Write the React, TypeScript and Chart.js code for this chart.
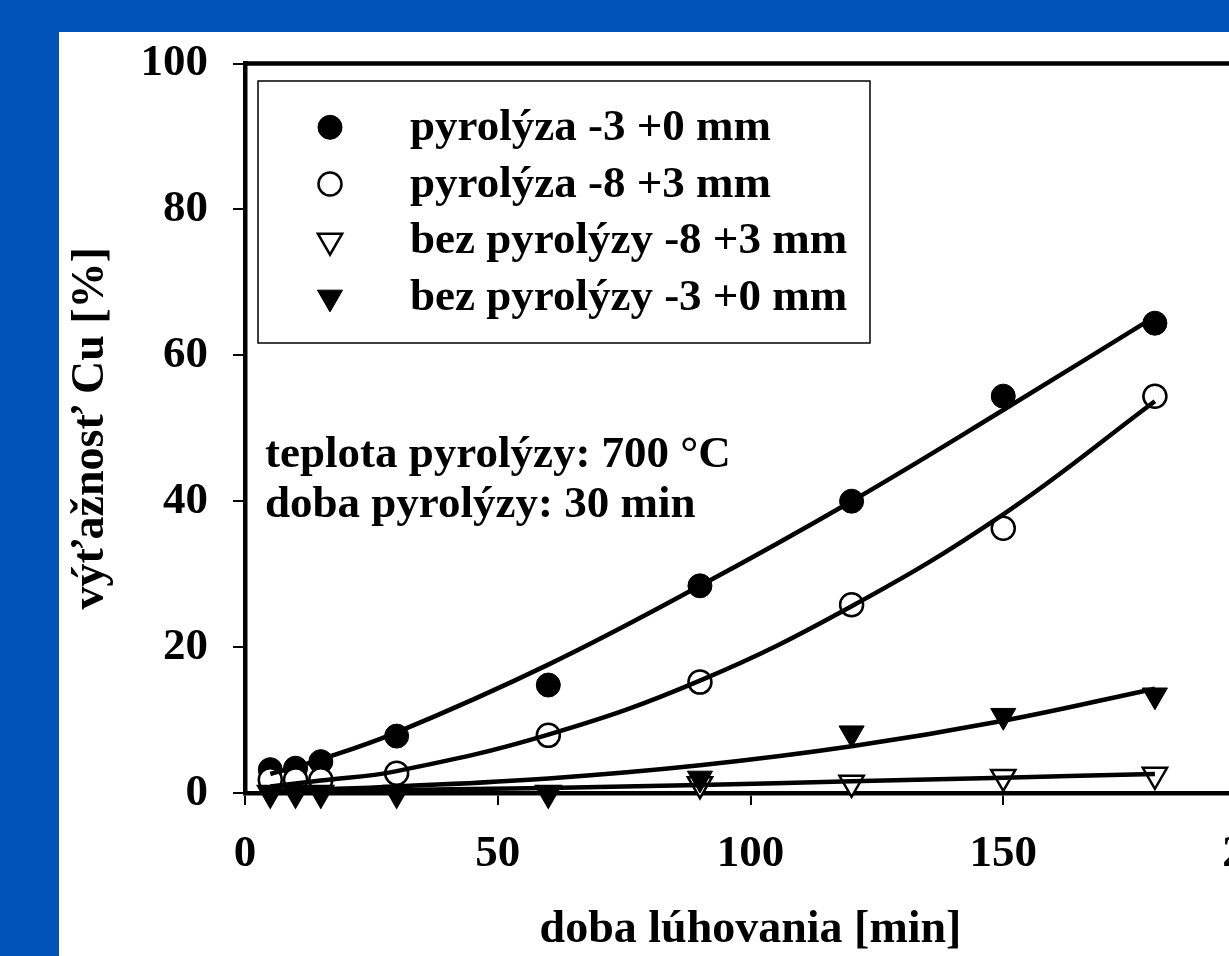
import React, { useEffect, useRef } from 'react';
import { Chart, registerables } from 'chart.js';
import { drawPoint } from 'chart.js/helpers';

Chart.register(...registerables);

// ---- data ----
const times = [5, 10, 15, 30, 60, 90, 120, 150, 180];
const pyro30 = [3.2, 3.4, 4.3, 7.8, 14.8, 28.4, 40.0, 54.4, 64.4];
const pyro83 = [1.8, 1.8, 1.8, 2.7, 7.9, 15.2, 25.8, 36.3, 54.4];
const bez83 = [0, 0, 0, 0, 0, 1.2, 1.4, 2.2, 2.5];
const bez30 = [0, 0, 0, 0, 0, 2.0, 8.2, 10.6, 13.4];

const fitTimes = [5, 15, 30, 60, 90, 120, 150, 180];
const fitPyro30 = [2.6, 4.6, 8.3, 17.6, 28.4, 40.0, 52.5, 65.3];
const fitPyro83 = [0.9, 1.7, 3.0, 8.0, 15.4, 25.6, 38.2, 53.7];
const fitBez30 = [0.3, 0.5, 0.9, 2.0, 3.8, 6.4, 9.9, 14.3];
const fitBez83 = [0.1, 0.2, 0.4, 0.7, 1.1, 1.6, 2.1, 2.6];

const seriesLabels = [
  'pyrolýza -3 +0 mm',
  'pyrolýza -8 +3 mm',
  'bez pyrolýzy -8 +3 mm',
  'bez pyrolýzy -3 +0 mm',
];
const xTicks = [0, 50, 100, 150, 200];
const yTicks = [0, 20, 40, 60, 80, 100];
const noteLines = ['teplota pyrolýzy: 700 °C', 'doba pyrolýzy: 30 min'];
const xTitle = 'doba lúhovania [min]';
const yTitle = 'výťažnosť Cu [%]';

const FONT = '"Liberation Serif", "Times New Roman", serif';
const BLACK = '#000000';

const pts = (xs: number[], ys: number[]) => xs.map((x, i) => ({ x, y: ys[i] }));

const framePlugin = {
  id: 'frameAndNotes',
  afterDraw(chart: any) {
    const { ctx, chartArea: ca } = chart;
    ctx.save();
    // top and right frame
    ctx.strokeStyle = BLACK;
    ctx.lineWidth = 4.5;
    ctx.beginPath();
    ctx.moveTo(ca.left - 2, ca.top);
    ctx.lineTo(ca.right, ca.top);
    ctx.lineTo(ca.right, ca.bottom);
    ctx.stroke();

    // annotation text
    ctx.fillStyle = BLACK;
    ctx.font = `bold 45px ${FONT}`;
    ctx.textAlign = 'left';
    ctx.textBaseline = 'alphabetic';
    noteLines.forEach((t, i) => ctx.fillText(t, ca.left + 20, ca.top + 403.5 + i * 50));

    // legend box
    const bx = ca.left + 13;
    const by = ca.top + 17.5;
    const bw = 612;
    const bh = 262;
    ctx.lineWidth = 1.5;
    ctx.strokeRect(bx, by, bw, bh);
    const markerSets = chart.data.datasets.filter((d: any) => d.isMarker);
    markerSets.sort((a: any, b: any) => a.legendIndex - b.legendIndex);
    markerSets.forEach((ds: any, i: number) => {
      const cy = by + 46.3 + i * 56.7;
      ctx.fillStyle = ds.backgroundColor;
      ctx.strokeStyle = ds.borderColor;
      ctx.lineWidth = ds.borderWidth;
      drawPoint(
        ctx,
        { pointStyle: ds.pointStyle, radius: ds.pointRadius, rotation: ds.rotation || 0, borderWidth: ds.borderWidth },
        bx + 72,
        cy
      );
      ctx.fillStyle = BLACK;
      ctx.font = `bold 45px ${FONT}`;
      ctx.textBaseline = 'middle';
      ctx.fillText(ds.label, bx + 152, cy + 1);
    });
    ctx.restore();
  },
};

export default function App() {
  const ref = useRef<HTMLCanvasElement | null>(null);

  useEffect(() => {
    if (!ref.current) return;
    const markerBase = { showLine: false, clip: false as any, isMarker: true };
    const fitBase = {
      showLine: true,
      pointRadius: 0,
      borderColor: BLACK,
      backgroundColor: BLACK,
      borderWidth: 4.5,
      tension: 0.4,
      clip: false as any,
      order: 0,
    };
    const chart = new Chart(ref.current, {
      type: 'scatter',
      data: {
        datasets: [
          {
            ...markerBase,
            label: seriesLabels[0],
            legendIndex: 0,
            data: pts(times, pyro30),
            pointStyle: 'circle',
            pointRadius: 12,
            backgroundColor: BLACK,
            borderColor: BLACK,
            borderWidth: 1,
            order: 4,
          } as any,
          {
            ...markerBase,
            label: seriesLabels[1],
            legendIndex: 1,
            data: pts(times, pyro83),
            pointStyle: 'circle',
            pointRadius: 11.5,
            backgroundColor: '#ffffff',
            borderColor: BLACK,
            borderWidth: 2.5,
            order: 3,
          } as any,
          {
            ...markerBase,
            label: seriesLabels[2],
            legendIndex: 2,
            data: pts(times, bez83),
            pointStyle: 'triangle',
            rotation: 180,
            pointRotation: 180,
            pointRadius: 14,
            backgroundColor: '#ffffff',
            borderColor: BLACK,
            borderWidth: 2.5,
            order: 2,
          } as any,
          {
            ...markerBase,
            label: seriesLabels[3],
            legendIndex: 3,
            data: pts(times, bez30),
            pointStyle: 'triangle',
            rotation: 180,
            pointRotation: 180,
            pointRadius: 14.5,
            backgroundColor: BLACK,
            borderColor: BLACK,
            borderWidth: 1,
            order: 1,
          } as any,
          { ...fitBase, label: 'fit1', data: pts(fitTimes, fitPyro30) } as any,
          { ...fitBase, label: 'fit2', data: pts(fitTimes, fitPyro83) } as any,
          { ...fitBase, label: 'fit3', data: pts(fitTimes, fitBez30) } as any,
          { ...fitBase, label: 'fit4', data: pts(fitTimes, fitBez83) } as any,
        ],
      },
      options: {
        animation: false,
        responsive: false,
        devicePixelRatio: 1,
        events: [],
        layout: { padding: { top: 31.5, right: 63, bottom: 0, left: 0 } },
        plugins: {
          legend: { display: false },
          tooltip: { enabled: false },
        },
        scales: {
          x: {
            type: 'linear',
            min: 0,
            max: 200,
            afterBuildTicks: (s: any) => {
              s.ticks = xTicks.map((v) => ({ value: v }));
            },
            afterFit: (s: any) => {
              s.height = 163;
              s.paddingLeft = 0;
              s.paddingRight = 0;
            },
            ticks: {
              color: BLACK,
              font: { family: FONT, size: 45, weight: 'bold', lineHeight: 1 },
              padding: 27,
              maxRotation: 0,
              autoSkip: false,
            },
            grid: { drawOnChartArea: false, drawTicks: true, tickLength: 12, lineWidth: 2, color: BLACK },
            border: { display: true, width: 4.5, color: BLACK },
            title: {
              display: true,
              text: xTitle,
              color: BLACK,
              font: { family: FONT, size: 46, weight: 'bold', lineHeight: 1 },
              padding: { top: 0, bottom: 2.5 },
            },
          },
          y: {
            type: 'linear',
            min: 0,
            max: 100,
            afterBuildTicks: (s: any) => {
              s.ticks = yTicks.map((v) => ({ value: v }));
            },
            afterFit: (s: any) => {
              s.width = 186;
              s.paddingTop = 0;
              s.paddingBottom = 0;
            },
            ticks: {
              color: BLACK,
              font: { family: FONT, size: 45, weight: 'bold', lineHeight: 1 },
              padding: 25,
            },
            grid: { drawOnChartArea: false, drawTicks: true, tickLength: 12, lineWidth: 2, color: BLACK },
            border: { display: true, width: 4.5, color: BLACK },
            title: {
              display: true,
              text: yTitle,
              color: BLACK,
              font: { family: FONT, size: 46, weight: 'bold', lineHeight: 1 },
              padding: { top: 9.5, bottom: 0 },
            },
          },
        },
      } as any,
      plugins: [framePlugin],
    });
    return () => chart.destroy();
  }, []);

  return (
    <div style={{ position: 'fixed', left: 0, top: 0, width: '100vw', height: '100vh', background: '#0052b9', overflow: 'hidden' }}>
      <div style={{ position: 'absolute', left: 59, top: 32, right: 0, bottom: 0, background: '#ffffff', overflow: 'hidden' }}>
        <canvas ref={ref} width={1260} height={924} style={{ display: 'block', width: 1260, height: 924 }} />
      </div>
    </div>
  );
}
